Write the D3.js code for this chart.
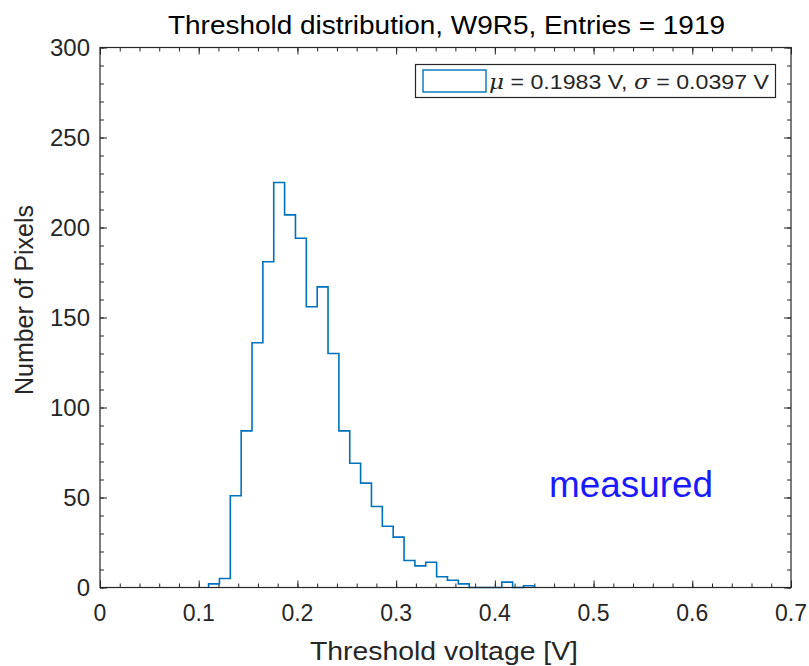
<!DOCTYPE html>
<html>
<head>
<meta charset="utf-8">
<script src="https://cdn.jsdelivr.net/npm/d3@7"></script>
<style>
  body { margin: 0; background: #fff; }
  svg text { font-family: "Liberation Sans", Arial, Helvetica, sans-serif; fill: #262626; }
</style>
</head>
<body>
<svg id="chart" width="809" height="666"></svg>
<script>
/** Histogram bin edges (V) and counts per bin */
var binStart = 0.11,
    binWidth = 0.011;
var binCounts = [2, 5, 51, 87, 136, 181, 225, 207, 194, 156, 167, 130, 87, 69, 58,
                 45, 34, 28, 15, 12, 14, 6, 4, 2, 0, 0, 0, 3, 0, 1];

/** Axis ticks */
var xTicks = [0, 0.1, 0.2, 0.3, 0.4, 0.5, 0.6, 0.7],
    yTicks = [0, 50, 100, 150, 200, 250, 300];

var titleText = 'Threshold distribution, W9R5, Entries = 1919',
    xLabel = 'Threshold voltage [V]',
    yLabel = 'Number of Pixels',
    annotation = 'measured';

var plotLeft = 100, plotRight = 791, plotTop = 47.5, plotBottom = 587.5;
var axisColor = '#262626',
    lineColor = '#0072BD';

var svg = d3.select('#chart');

var x = d3.scaleLinear().domain([0, 0.7]).range([plotLeft, plotRight]);
var y = d3.scaleLinear().domain([0, 300]).range([plotBottom, plotTop]);

// minor tick values
var xMinor = d3.range(0, 36).map(function (i) { return i * 0.02; });
var yMinor = d3.range(0, 31).map(function (i) { return i * 10; });

function drawTicks(axisFn, scale, values, len, transform) {
    var g = svg.append('g')
        .attr('transform', transform)
        .call(axisFn(scale).tickValues(values).tickSize(len).tickFormat(''));
    g.select('.domain').remove();
    g.selectAll('line').attr('stroke', axisColor);
    return g;
}

// inward ticks on all four sides
drawTicks(d3.axisBottom, x, xMinor, -4, 'translate(0,' + plotBottom + ')');
drawTicks(d3.axisBottom, x, xTicks, -7, 'translate(0,' + plotBottom + ')');
drawTicks(d3.axisTop, x, xMinor, -4, 'translate(0,' + plotTop + ')');
drawTicks(d3.axisTop, x, xTicks, -7, 'translate(0,' + plotTop + ')');
drawTicks(d3.axisLeft, y, yMinor, -4, 'translate(' + plotLeft + ',0)');
drawTicks(d3.axisLeft, y, yTicks, -7, 'translate(' + plotLeft + ',0)');
drawTicks(d3.axisRight, y, yMinor, -4, 'translate(' + plotRight + ',0)');
drawTicks(d3.axisRight, y, yTicks, -7, 'translate(' + plotRight + ',0)');

// tick labels
svg.append('g').selectAll('text').data(xTicks)
    .enter().append('text')
    .attr('x', function (d) { return x(d); })
    .attr('y', plotBottom + 33)
    .attr('text-anchor', 'middle')
    .style('font-size', '23px')
    .text(function (d) { return d3.format('')(d); });

svg.append('g').selectAll('text').data(yTicks)
    .enter().append('text')
    .attr('x', plotLeft - 10)
    .attr('y', function (d) { return y(d) + 8; })
    .attr('text-anchor', 'end')
    .style('font-size', '24px')
    .text(function (d) { return d; });

// histogram outline (stairs)
var pts = [[binStart, 0]];
binCounts.forEach(function (c, i) {
    pts.push([binStart + i * binWidth, c]);
});
pts.push([binStart + binCounts.length * binWidth, binCounts[binCounts.length - 1]]);
pts.push([binStart + binCounts.length * binWidth, 0]);

var stairs = d3.line()
    .x(function (d) { return x(d[0]); })
    .y(function (d) { return y(d[1]); })
    .curve(d3.curveStepAfter);

svg.append('path')
    .datum(pts)
    .attr('d', stairs)
    .attr('fill', 'none')
    .attr('stroke', lineColor)
    .attr('stroke-width', 1.6);

// axes box
svg.append('rect')
    .attr('x', plotLeft).attr('y', plotTop)
    .attr('width', plotRight - plotLeft).attr('height', plotBottom - plotTop)
    .attr('fill', 'none')
    .attr('stroke', axisColor)
    .attr('stroke-width', 1.2);

// legend
var legend = svg.append('g');
legend.append('rect')
    .attr('x', 415.5).attr('y', 64.5).attr('width', 360).attr('height', 33)
    .attr('fill', '#fff').attr('stroke', axisColor).attr('stroke-width', 1.2);
legend.append('rect')
    .attr('x', 423).attr('y', 70).attr('width', 63).attr('height', 22)
    .attr('fill', 'none').attr('stroke', lineColor).attr('stroke-width', 1.4);
var lt = legend.append('text')
    .attr('x', 489).attr('y', 89)
    .attr('textLength', 280)
    .attr('lengthAdjust', 'spacingAndGlyphs')
    .style('font-size', '21px');
lt.append('tspan').style('font-style', 'italic').style('font-family', '"DejaVu Serif", serif').text('\u03bc');
lt.append('tspan').text(' = 0.1983 V, ');
lt.append('tspan').style('font-style', 'italic').style('font-family', '"DejaVu Serif", serif').text('\u03c3');
lt.append('tspan').text(' = 0.0397 V');

// title and axis labels
svg.append('text')
    .attr('x', 168).attr('y', 34)
    .attr('textLength', 557)
    .attr('lengthAdjust', 'spacingAndGlyphs')
    .style('font-size', '26px')
    .style('fill', '#000')
    .text(titleText);

svg.append('text')
    .attr('x', 310).attr('y', 660)
    .attr('textLength', 268)
    .attr('lengthAdjust', 'spacingAndGlyphs')
    .style('font-size', '26px')
    .text(xLabel);

svg.append('text')
    .attr('transform', 'translate(33,395) rotate(-90)')
    .attr('textLength', 190)
    .attr('lengthAdjust', 'spacingAndGlyphs')
    .style('font-size', '25px')
    .text(yLabel);

// annotation
svg.append('text')
    .attr('x', 549).attr('y', 497)
    .attr('textLength', 164)
    .attr('lengthAdjust', 'spacingAndGlyphs')
    .style('font-size', '36px')
    .style('fill', '#1a1aff')
    .text(annotation);
</script>
</body>
</html>
